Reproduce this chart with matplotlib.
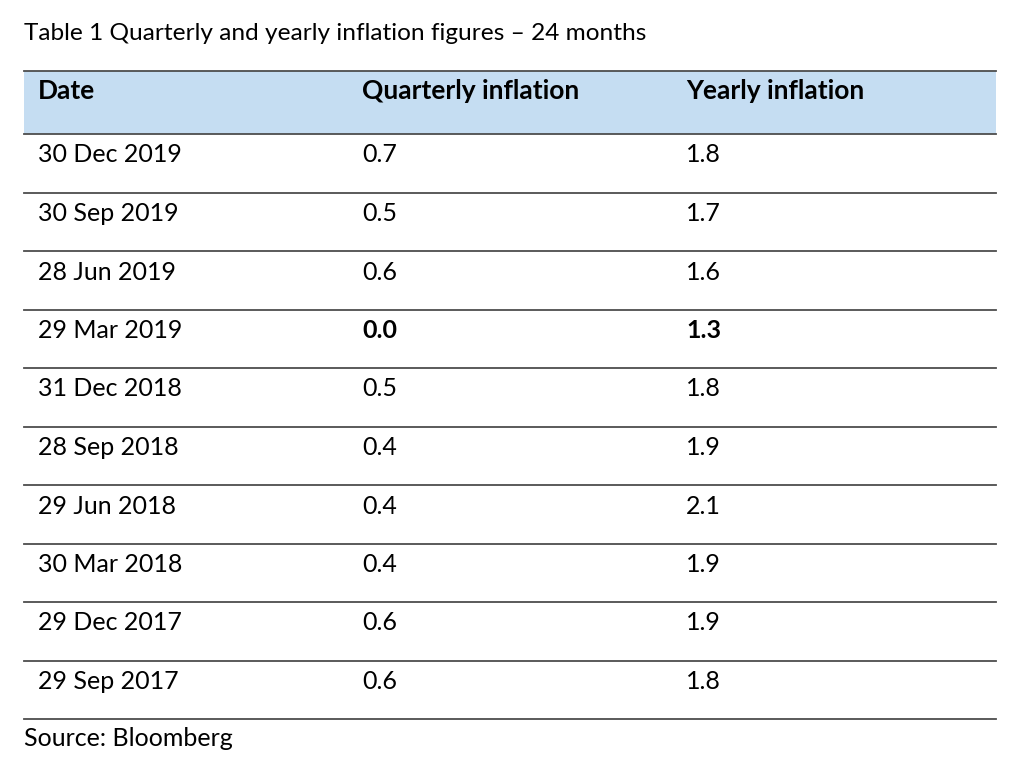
import matplotlib
matplotlib.use("Agg")
import matplotlib.pyplot as plt
from matplotlib.patches import Rectangle

# table data
dates = ["30 Dec 2019", "30 Sep 2019", "28 Jun 2019", "29 Mar 2019", "31 Dec 2018",
         "28 Sep 2018", "29 Jun 2018", "30 Mar 2018", "29 Dec 2017", "29 Sep 2017"]
quarterly = ["0.7", "0.5", "0.6", "0.0", "0.5", "0.4", "0.4", "0.4", "0.6", "0.6"]
yearly = ["1.8", "1.7", "1.6", "1.3", "1.8", "1.9", "2.1", "1.9", "1.9", "1.8"]
headers = ["Date", "Quarterly inflation", "Yearly inflation"]
bold_rows = [3]

title = "Table 1 Quarterly and yearly inflation figures \u2013 24 months"
source = "Source: Bloomberg"

plt.rcParams['font.family'] = ['Lato', 'DejaVu Sans']

fig = plt.figure(figsize=(10.24, 7.76), dpi=100)
ax = fig.add_axes([0, 0, 1, 1])
ax.set_xlim(0, 1024)
ax.set_ylim(776, 0)
ax.axis("off")

left, right = 24, 996
col_x = [38, 362, 686]
head_top, head_bot = 71, 134
row_h = 58.5
fs = 18
line_col = "#4d4d4d"

ax.text(left, 33, title, fontsize=17.6, va="center", ha="left", color="black")

# header band
ax.add_patch(Rectangle((left, head_top), right - left, head_bot - head_top,
                       facecolor="#c5ddf2", edgecolor="none"))
ax.plot([left, right], [head_top, head_top], color=line_col, lw=1.3)
ax.plot([left, right], [head_bot, head_bot], color=line_col, lw=1.3)
for x, h in zip(col_x, headers):
    ax.text(x, 91, h, fontsize=19, fontweight="bold", va="center", ha="left")

for i in range(len(dates)):
    top = head_bot + i * row_h
    yc = top + 21
    wt = "bold" if i in bold_rows else "normal"
    ax.text(col_x[0], yc, dates[i], fontsize=fs, va="center", ha="left")
    ax.text(col_x[1], yc, quarterly[i], fontsize=fs, va="center", ha="left", fontweight=wt)
    ax.text(col_x[2], yc, yearly[i], fontsize=fs, va="center", ha="left", fontweight=wt)
    ax.plot([left, right], [top + row_h, top + row_h], color=line_col, lw=1.3)

ax.text(left, 738, source, fontsize=fs, va="center", ha="left")

fig.savefig("out.png", dpi=100)
